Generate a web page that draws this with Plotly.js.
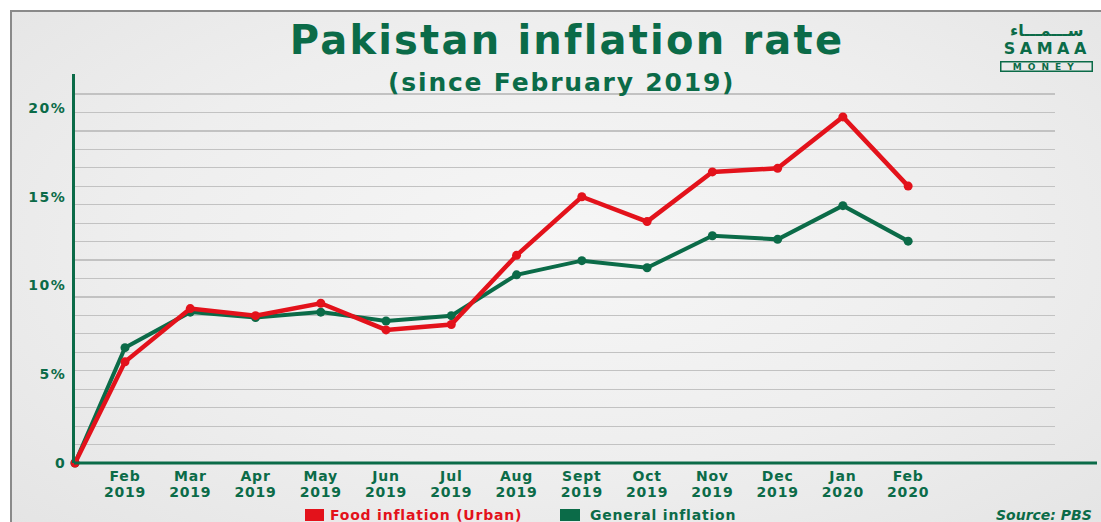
<!DOCTYPE html>
<html><head><meta charset="utf-8">
<script src="https://cdn.plot.ly/plotly-3.0.1.min.js"></script>
<style>
html,body{margin:0;padding:0;background:#fff;width:1101px;height:522px;overflow:hidden}
#frame{position:absolute;left:10px;top:10px;width:1100px;height:520px;border-left:2px solid #8a8a8a;border-top:2px solid #8a8a8a;background:radial-gradient(ellipse at 50% 45%, #f6f6f6 0%, #eeeeee 55%, #e4e4e4 100%);}
#chart{position:absolute;left:0;top:0;width:1101px;height:522px}
#chart .gtitle{letter-spacing:2.2px}
#chart g.annotation[data-index="0"] text{letter-spacing:1.8px}
#chart g.annotation[data-index="2"] text{letter-spacing:4.5px}
#chart g.annotation[data-index="3"] text{letter-spacing:6px}
#chart g.annotation[data-index="5"] text, #chart g.annotation[data-index="6"] text{letter-spacing:0.8px}
#chart .xtick text, #chart .x2tick text{letter-spacing:0.8px}
#chart .ytick text{letter-spacing:1.5px}
</style></head><body>
<div id="frame"></div><div id="chart"></div>
<script>
// ---- data ----
const monthLabels = ['Feb','Mar','Apr','May','Jun','Jul','Aug','Sept','Oct','Nov','Dec','Jan','Feb'];
const yearLabels = ['2019','2019','2019','2019','2019','2019','2019','2019','2019','2019','2019','2020','2020'];
const foodInflation = [5.7, 8.7, 8.3, 9.0, 7.5, 7.8, 11.7, 15.0, 13.6, 16.4, 16.6, 19.5, 15.6];
const generalInflation = [6.5, 8.5, 8.2, 8.5, 8.0, 8.3, 10.6, 11.4, 11.0, 12.8, 12.6, 14.5, 12.5];
const startValue = 0;
const yTickValues = [0, 5, 10, 15, 20];
const yTickLabels = ['0', '5%', '10%', '15%', '20%'];
const foodName = 'Food inflation (Urban)';
const generalName = 'General inflation';
const titleText = 'Pakistan inflation rate';
const subtitleText = '(since February 2019)';
const sourceText = 'Source: PBS';
const logoArabic = 'ســـمـــاء';
const logoName = 'SAMAA';
const logoSub = 'MONEY';

// ---- style / layout ----
const GREEN = '#0b6b48';
const RED = '#e3121b';
const FONT = 'DejaVu Sans, Verdana, sans-serif';
const W = 1101, H = 522;
const L = 75, R = 1055, T = 74, B = 463;
const px = x => (x - L) / (R - L);
const py = y => (B - y) / (B - T);

const idx = monthLabels.map((_, i) => i + 1);
const xStart = 0.234;          // axis origin sits a little before the first month
const xEnd = 15.25;
const seriesX = [xStart].concat(idx);

const gridVals = [];
for (let g = 1; g <= 20; g++) gridVals.push(g);

const traces = [
  {x: seriesX, y: [startValue].concat(generalInflation), mode: 'lines+markers', name: generalName,
   line: {color: GREEN, width: 4}, marker: {color: GREEN, size: 9},
   showlegend: false, hoverinfo: 'skip', cliponaxis: false},
  {x: seriesX, y: [startValue].concat(foodInflation), mode: 'lines+markers', name: foodName,
   line: {color: RED, width: 4.5}, marker: {color: RED, size: 9},
   showlegend: false, hoverinfo: 'skip', cliponaxis: false},
  // helpers for the year-row axis and the gridline axis
  {x: [null], y: [null], xaxis: 'x2', yaxis: 'y', showlegend: false, hoverinfo: 'skip', mode: 'lines'},
  {x: [null], y: [null], xaxis: 'x', yaxis: 'y2', showlegend: false, hoverinfo: 'skip', mode: 'lines'}
];

const tickFont = {family: FONT, size: 14, color: GREEN, weight: 700};

function legendKey(x0, x1, color) {
  return {type: 'rect', xref: 'paper', yref: 'paper', x0: px(x0), x1: px(x1), y0: py(521), y1: py(509),
          fillcolor: color, line: {width: 0}};
}

const layout = {
  width: W, height: H,
  paper_bgcolor: 'rgba(0,0,0,0)', plot_bgcolor: 'rgba(0,0,0,0)',
  margin: {l: L, r: W - R, t: T, b: H - B, autoexpand: false},
  hovermode: false,
  showlegend: false,
  title: {text: titleText, font: {family: FONT, size: 40, weight: 700, color: GREEN},
          x: 567 / W, xanchor: 'center', xref: 'container', y: 1 - 40 / H, yanchor: 'middle', yref: 'container'},
  xaxis: {range: [xStart, xEnd], tickmode: 'array', tickvals: idx, ticktext: monthLabels,
          showgrid: false, zeroline: false, showline: false, ticks: '', tickfont: tickFont,
          ticklabelstandoff: 3, fixedrange: true},
  xaxis2: {overlaying: 'x', anchor: 'y', side: 'bottom', range: [xStart, xEnd], tickmode: 'array',
           tickvals: idx, ticktext: yearLabels, showgrid: false, zeroline: false, showline: false,
           ticks: '', tickfont: tickFont, ticklabelstandoff: 19, fixedrange: true},
  yaxis: {range: [0, (B - T) / 17.75], tickmode: 'array', tickvals: yTickValues, ticktext: yTickLabels,
          showgrid: false, zeroline: false, showline: true, linecolor: GREEN, linewidth: 3,
          ticks: '', tickfont: {family: FONT, size: 14, color: GREEN, weight: 700},
          ticklabelstandoff: 3, fixedrange: true},
  yaxis2: {overlaying: 'y', side: 'left', range: [0, (B - T) / 18.45], tickmode: 'array', tickvals: gridVals,
           showticklabels: false, showgrid: true, gridcolor: '#c2c2c2', gridwidth: 1.2,
           zeroline: false, showline: false, ticks: '', fixedrange: true},
  shapes: [
    {type: 'line', xref: 'paper', yref: 'paper', x0: px(74), x1: px(1097), y0: 0, y1: 0,
     line: {color: GREEN, width: 3}},
    legendKey(305, 324, RED),
    legendKey(560, 580, GREEN)
  ],
  annotations: [
    {text: subtitleText, xref: 'paper', yref: 'paper', x: px(561), y: py(82), xanchor: 'center', yanchor: 'middle',
     showarrow: false, font: {family: FONT, size: 25, weight: 700, color: GREEN}},
    {text: logoArabic, xref: 'paper', yref: 'paper', x: px(1046), y: py(30), xanchor: 'center', yanchor: 'middle',
     showarrow: false, font: {family: FONT, size: 16, weight: 700, color: GREEN}},
    {text: logoName, xref: 'paper', yref: 'paper', x: px(1047), y: py(49), xanchor: 'center', yanchor: 'middle',
     showarrow: false, font: {family: FONT, size: 16, weight: 700, color: GREEN}},
    {text: logoSub, xref: 'paper', yref: 'paper', x: px(1046), y: py(66), xanchor: 'center', yanchor: 'middle',
     showarrow: false, width: 90, height: 8, borderpad: 0, bordercolor: GREEN, borderwidth: 1.5,
     font: {family: FONT, size: 9, weight: 700, color: GREEN}},
    {text: sourceText, xref: 'paper', yref: 'paper', x: px(1094), y: py(515), xanchor: 'right', yanchor: 'middle',
     showarrow: false, font: {family: FONT, size: 14, style: 'italic', weight: 700, color: GREEN}},
    {text: foodName, xref: 'paper', yref: 'paper', x: px(337), y: py(515), xanchor: 'left', yanchor: 'middle',
     showarrow: false, font: {family: FONT, size: 14, weight: 700, color: RED}},
    {text: generalName, xref: 'paper', yref: 'paper', x: px(595), y: py(515), xanchor: 'left', yanchor: 'middle',
     showarrow: false, font: {family: FONT, size: 14, weight: 700, color: GREEN}}
  ]
};

Plotly.newPlot('chart', traces, layout, {displayModeBar: false, staticPlot: true});
</script>
</body></html>
